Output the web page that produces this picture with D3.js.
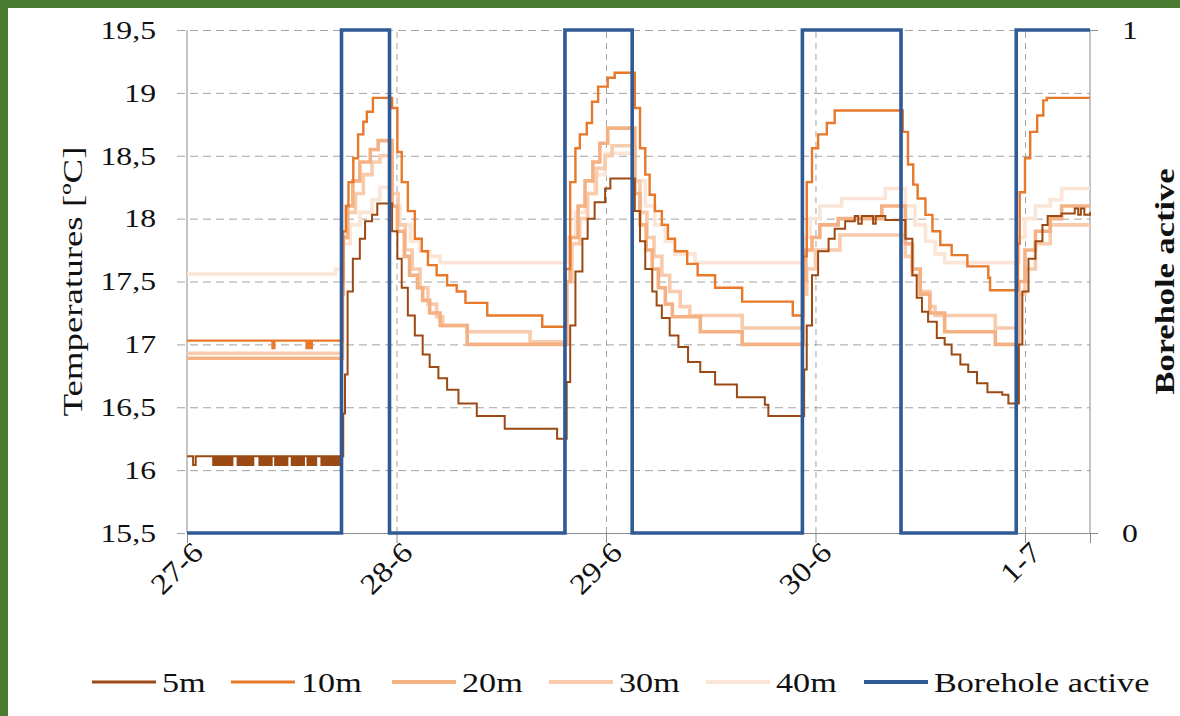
<!DOCTYPE html>
<html lang="en">
<head>
<meta charset="UTF-8">
<title>Borehole temperatures</title>
<script src="https://cdn.jsdelivr.net/npm/d3@7/dist/d3.min.js"></script>
<style>
    body { margin: 0; background: #4b7a31; }
    svg { display: block; }
    text { font-family: "Liberation Serif", "Times New Roman", serif; fill: #111; }
</style>
</head>
<body>
<svg id="chart" width="1180" height="716"></svg>
<script>
// hours since 27-6 00:00, temperature in ºC
const s5m = [[0,16.11],[0.7,16.04],[1.0,16.11],
    [3.0,16.04],[3.2,16.11],[3.4,16.04],[3.6,16.11],[3.8,16.04],[4.0,16.11],[4.2,16.04],[4.4,16.11],[4.6,16.04],[4.8,16.11],[5.0,16.04],[5.2,16.11],
    [5.8,16.04],[6.0,16.11],[6.2,16.04],[6.4,16.11],[6.6,16.04],[6.8,16.11],[7.0,16.04],[7.2,16.11],[7.4,16.04],[7.6,16.11],
    [8.3,16.04],[8.5,16.11],[8.7,16.04],[8.9,16.11],[9.1,16.04],[9.3,16.11],[9.5,16.04],[9.7,16.11],
    [10.1,16.04],[10.3,16.11],[10.5,16.04],[10.7,16.11],[10.9,16.04],[11.1,16.11],[11.3,16.04],[11.5,16.11],
    [12.0,16.04],[12.2,16.11],[12.4,16.04],[12.6,16.11],[12.8,16.04],[13.0,16.11],[13.2,16.04],[13.4,16.11],
    [13.8,16.04],[14.0,16.11],[14.2,16.04],[14.4,16.11],[14.6,16.04],[14.8,16.11],
    [15.4,16.04],[15.6,16.11],[15.8,16.04],[16.0,16.11],[16.2,16.04],[16.4,16.11],[16.6,16.04],[16.8,16.11],[17.0,16.04],[17.2,16.11],[17.4,16.04],[17.6,16.11],
    [17.9,16.45],[18.1,16.76],[18.4,17.42],[19.0,17.68],[19.8,17.84],[20.4,17.98],[21.2,18.03],[21.8,18.12],
    [23.5,17.9],[24.1,17.68],[24.6,17.45],[25.3,17.23],[26.1,17.07],[27.0,16.92],[27.8,16.82],[28.8,16.73],[29.8,16.64],[31.1,16.53],[33.2,16.43],[36.4,16.33],[42.4,16.25],
    [43.5,16.7],[43.9,17.15],[44.5,17.58],[45.3,17.84],[45.9,18.0],[46.7,18.13],[47.9,18.24],[48.5,18.32],
    [51.3,18.06],[51.9,17.82],[52.5,17.6],[53.3,17.42],[53.8,17.31],[54.4,17.21],[55.3,17.07],[56.3,16.98],[57.4,16.86],[58.8,16.78],[60.5,16.68],[63.0,16.58],[66.2,16.52],[66.6,16.43],
    [70.7,16.8],[71.0,17.15],[71.6,17.55],[72.3,17.74],[73.5,17.84],[74.2,17.92],[75.4,17.98],[76.5,18.02],[76.9,17.96],[77.3,18.02],[78.6,17.96],[78.9,18.02],[80.0,17.99],
    [82.3,17.84],[83.1,17.55],[83.6,17.37],[84.2,17.26],[84.9,17.18],[85.9,17.05],[86.8,17.0],[87.6,16.92],[88.6,16.84],[89.5,16.78],[90.5,16.69],[91.7,16.62],[93.4,16.6],[94.1,16.53],
    [95.3,17.0],[95.7,17.42],[96.4,17.68],[97.2,17.82],[98.0,17.95],[98.6,18.02],[100.2,18.04],[101.7,18.08],[102.1,18.03],[102.4,18.08],[102.8,18.03],[103.45,18.05]];

const s10m = [[0,17.03],[9.8,16.97],[10.0,17.03],[13.7,16.97],[13.9,17.03],[14.1,16.97],[14.3,17.03],
    [17.8,17.5],[17.9,17.9],[18.2,18.1],[18.5,18.29],[19.05,18.48],[19.6,18.67],[20.2,18.77],[20.6,18.85],[21.3,18.96],
    [23.5,18.88],[24.1,18.53],[24.6,18.29],[25.3,18.06],[26.1,17.84],[26.9,17.74],[27.6,17.63],[28.6,17.55],[29.8,17.47],[30.9,17.42],[31.9,17.33],[34.4,17.23],[40.7,17.14],
    [43.4,17.6],[43.9,18.29],[44.5,18.56],[45.0,18.67],[45.8,18.76],[46.4,18.93],[47.1,19.05],[48.2,19.12],[49.0,19.16],
    [51.3,18.88],[51.9,18.56],[52.5,18.35],[53.0,18.19],[53.6,18.06],[54.4,17.95],[55.1,17.84],[55.9,17.74],[57.3,17.64],[58.5,17.55],[60.5,17.45],[63.6,17.34],[69.4,17.23],
    [70.6,17.7],[71.0,18.29],[71.6,18.56],[72.3,18.67],[73.3,18.76],[74.2,18.86],
    [82.0,18.69],[82.6,18.43],[83.2,18.27],[83.7,18.16],[84.6,18.03],[85.4,17.9],[86.3,17.79],[87.6,17.71],[89.4,17.62],[91.8,17.53],[92.0,17.43],
    [95.2,17.8],[95.4,18.21],[96.0,18.48],[96.6,18.69],[97.4,18.82],[98.1,18.94],[98.5,18.96],[103.45,18.96]];

const s20m = [[0,16.89],
    [17.8,17.4],[17.9,17.85],[18.4,18.1],[19.0,18.3],[19.8,18.45],[21.0,18.55],[21.9,18.62],
    [23.5,18.1],[24.1,17.9],[24.9,17.7],[25.5,17.55],[26.4,17.45],[27.0,17.35],[27.8,17.25],[29.0,17.15],[32.1,17.0],
    [43.5,17.5],[43.9,17.85],[44.8,18.1],[45.6,18.3],[46.5,18.45],[47.3,18.6],[48.2,18.72],
    [51.3,18.2],[51.9,17.95],[52.6,17.75],[53.3,17.6],[54.0,17.45],[54.8,17.32],[55.6,17.22],[58.8,17.1],[63.6,17.0],
    [70.6,17.5],[70.9,17.75],[71.6,17.85],[72.5,17.95],[74.6,18.0],[79.6,18.1],
    [82.3,17.8],[83.1,17.6],[84.0,17.4],[85.1,17.25],[86.8,17.1],[92.6,17.0],
    [95.3,17.5],[96.0,17.75],[97.2,17.9],[98.9,18.0],[100.2,18.1],[103.45,18.1]];

const s30m = [[0,16.93],
    [17.8,17.4],[17.9,17.85],[18.4,18.05],[19.3,18.2],[20.2,18.35],[21.2,18.45],[22.1,18.5],
    [23.5,18.2],[24.2,17.95],[25.0,17.75],[25.8,17.6],[26.7,17.45],[27.6,17.32],[28.6,17.22],[29.3,17.15],[32.1,17.1],[39.3,17.02],
    [43.5,17.5],[44.1,17.8],[45.0,18.0],[45.9,18.2],[46.9,18.4],[47.9,18.5],[48.7,18.58],
    [51.3,18.3],[51.9,18.05],[52.7,17.85],[53.5,17.7],[54.4,17.55],[55.3,17.42],[56.5,17.3],[57.6,17.23],[63.6,17.13],
    [70.6,17.4],[71.0,17.6],[72.0,17.75],[74.8,17.87],
    [82.3,17.7],[83.1,17.55],[84.0,17.42],[85.1,17.3],[85.7,17.23],[92.6,17.13],
    [95.3,17.4],[96.0,17.6],[97.2,17.8],[98.9,17.95],[103.45,17.95]];

const s40m = [[0,17.56],[17.0,17.6],
    [17.9,17.8],[18.7,17.95],[19.8,18.05],[21.2,18.15],[22.1,18.25],
    [23.5,18.1],[24.4,17.95],[25.6,17.82],[26.7,17.74],[27.8,17.7],[29.0,17.65],
    [43.5,17.85],[44.5,18.05],[45.6,18.2],[46.7,18.35],[47.9,18.52],
    [51.3,18.3],[52.5,18.1],[53.6,17.95],[54.8,17.82],[55.9,17.72],[58.2,17.65],
    [70.6,17.85],[71.4,18.0],[72.5,18.1],[75.0,18.16],[80.0,18.24],
    [82.3,18.1],[83.4,17.95],[84.6,17.82],[85.7,17.72],[86.8,17.65],
    [95.3,17.85],[96.0,18.0],[97.2,18.1],[98.9,18.15],[100.2,18.24],[103.45,18.24]];

// borehole on/off (secondary axis)
const borehole = [[0,0],[17.7,1],[23.2,0],[43.3,1],[51.0,0],[70.5,1],[81.8,0],[95.0,1],[103.45,1]];

const xTickHours = [0, 24, 48, 72, 96];
const xTickLabels = ["27-6", "28-6", "29-6", "30-6", "1-7"];
const yTicks = [15.5, 16, 16.5, 17, 17.5, 18, 18.5, 19, 19.5];
const yTickLabels = ["15,5", "16", "16,5", "17", "17,5", "18", "18,5", "19", "19,5"];
const y2Ticks = [0, 1];
const seriesNames = ["5m", "10m", "20m", "30m", "40m", "Borehole active"];
const seriesColors = ["#9c4a14", "#e8782a", "#f4b183", "#f8cbad", "#fbe5d6", "#2f5a96"];

const W = 1180, H = 716;
const plotL = 187, plotR = 1090, plotT = 30, plotB = 533;
const legendX = [92, 231, 392, 549, 706, 864];

const svg = d3.select("#chart");
svg.append("rect").attr("x", 8).attr("y", 8).attr("width", W - 8).attr("height", H - 8).attr("fill", "#fff");

const x = d3.scaleLinear().domain([0, 103.45]).range([plotL, plotR]);
const y = d3.scaleLinear().domain([15.5, 19.5]).range([plotB, plotT]);
const y2 = d3.scaleLinear().domain([0, 1]).range([plotB, plotT]);

// stretch text a little wider, like the scanned figure
function widen(sel, k) {
    sel.each(function() {
        const w = this.getComputedTextLength();
        d3.select(this).attr("textLength", w * k).attr("lengthAdjust", "spacingAndGlyphs");
    });
}

// horizontal grid
svg.append("g")
    .attr("transform", `translate(${plotL - 10},0)`)
    .call(d3.axisLeft(y).tickValues(yTicks).tickSize(-(plotR - plotL + 10)).tickFormat(""))
    .call(g => g.select(".domain").remove())
    .call(g => g.selectAll("line").attr("stroke", "#a3a3a3").attr("stroke-dasharray", "8,5"));

// vertical grid at day ticks
svg.append("g")
    .attr("transform", `translate(0,${plotB})`)
    .call(d3.axisBottom(x).tickValues(xTickHours.slice(1)).tickSize(-(plotB - plotT)).tickFormat(""))
    .call(g => g.select(".domain").remove())
    .call(g => g.selectAll("line").attr("stroke", "#a3a3a3").attr("stroke-dasharray", "6,5"));

// axis lines
svg.append("line").attr("x1", plotL).attr("x2", plotL).attr("y1", plotT).attr("y2", plotB).attr("stroke", "#8c8c8c");
svg.append("line").attr("x1", plotR).attr("x2", plotR).attr("y1", plotT).attr("y2", plotB).attr("stroke", "#8c8c8c");

// x axis
const xAxis = svg.append("g")
    .attr("transform", `translate(0,${plotB})`)
    .call(d3.axisBottom(x).tickValues(xTickHours).tickSize(10).tickFormat((d, i) => xTickLabels[i]));
xAxis.select(".domain").attr("stroke", "#8c8c8c");
xAxis.selectAll("line").attr("stroke", "#8c8c8c");
xAxis.selectAll("text")
    .attr("font-size", 29)
    .attr("text-anchor", "end")
    .attr("transform", "translate(10,14) rotate(-45)")
    .attr("x", 0).attr("y", 0).attr("dy", "0.35em");
widen(xAxis.selectAll("text"), 1.12);

// left labels
const yAxis = svg.append("g")
    .attr("transform", `translate(${plotL},0)`)
    .call(d3.axisLeft(y).tickValues(yTicks).tickSize(0).tickPadding(31).tickFormat((d, i) => yTickLabels[i]));
yAxis.select(".domain").remove();
yAxis.selectAll("text").attr("font-size", 26);
widen(yAxis.selectAll("text"), 1.22);

// right labels
const y2Axis = svg.append("g")
    .attr("transform", `translate(${plotR},0)`)
    .call(d3.axisRight(y2).tickValues(y2Ticks).tickSize(8).tickPadding(24).tickFormat(d3.format("d")));
y2Axis.select(".domain").remove();
y2Axis.selectAll("line").attr("stroke", "#8c8c8c");
y2Axis.selectAll("text").attr("font-size", 26);
widen(y2Axis.selectAll("text"), 1.22);

// axis titles
svg.append("text")
    .attr("transform", `translate(82,${(plotT + plotB) / 2}) rotate(-90)`)
    .attr("text-anchor", "middle")
    .attr("font-size", 28)
    .attr("textLength", 270).attr("lengthAdjust", "spacingAndGlyphs")
    .text("Temperatures [ºC]");
svg.append("text")
    .attr("transform", `translate(1174,${(plotT + plotB) / 2}) rotate(-90)`)
    .attr("text-anchor", "middle")
    .attr("font-size", 28)
    .attr("font-weight", "bold")
    .attr("textLength", 226).attr("lengthAdjust", "spacingAndGlyphs")
    .text("Borehole active");

// series
const line = d3.line().x(d => x(d[0])).y(d => y(d[1])).curve(d3.curveStepAfter);
const line2 = d3.line().x(d => x(d[0])).y(d => y2(d[1])).curve(d3.curveStepAfter);
const temps = [s5m, s10m, s20m, s30m, s40m];
const widths = [2, 2.4, 3.6, 3.6, 3.6];

[4, 3, 2, 1, 0].forEach(i => {
    svg.append("path")
        .datum(temps[i])
        .attr("d", line)
        .attr("fill", "none")
        .attr("stroke", seriesColors[i])
        .attr("stroke-width", widths[i]);
});

svg.append("path")
    .datum(borehole)
    .attr("d", line2)
    .attr("fill", "none")
    .attr("stroke", seriesColors[5])
    .attr("stroke-width", 3.6);

// legend
const legendWidths = [3, 3, 4, 4, 4, 4];
const legend = svg.append("g").attr("transform", "translate(0,682)");
seriesNames.forEach((name, i) => {
    const item = legend.append("g").attr("transform", `translate(${legendX[i]},0)`);
    item.append("line").attr("x1", 0).attr("x2", 64).attr("y1", 0).attr("y2", 0)
        .attr("stroke", seriesColors[i]).attr("stroke-width", legendWidths[i]);
    const t = item.append("text").attr("x", 70).attr("dy", "0.35em").attr("font-size", 28).text(name);
    widen(t, 1.22);
});
</script>
</body>
</html>
